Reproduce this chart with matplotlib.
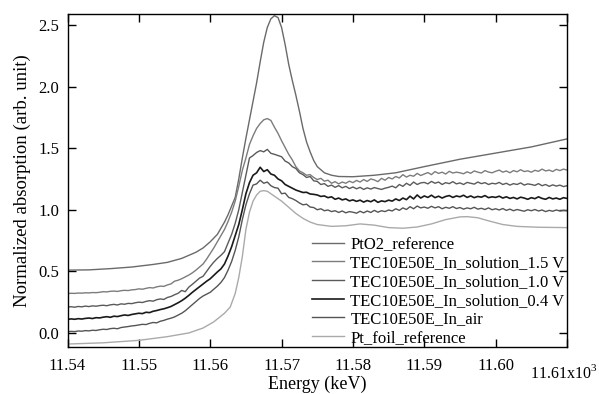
import numpy as np
import matplotlib
matplotlib.use("Agg")
import matplotlib.pyplot as plt

plt.rcParams['font.family'] = ['Liberation Serif', 'DejaVu Serif']
plt.rcParams['mathtext.fontset'] = 'custom'
plt.rcParams['mathtext.rm'] = 'Liberation Serif'

# ---- data (energies in eV above 11540 eV) ----
e_noisy = np.arange(141) * 0.5

sol_15 = [
    0.320, 0.322, 0.321, 0.324, 0.323, 0.326, 0.325, 0.328, 0.327, 0.330,
    0.335, 0.333, 0.338, 0.340, 0.337, 0.343, 0.346, 0.344, 0.350, 0.352,
    0.358, 0.355, 0.362, 0.368, 0.365, 0.374, 0.380, 0.378, 0.390, 0.398,
    0.420, 0.428, 0.440, 0.455, 0.470, 0.488, 0.510, 0.535, 0.560, 0.600,
    0.645, 0.690, 0.740, 0.790, 0.840, 0.905, 0.980, 1.070, 1.190, 1.320,
    1.420, 1.530, 1.600, 1.660, 1.700, 1.730, 1.740, 1.725, 1.670, 1.620,
    1.560, 1.505, 1.450, 1.405, 1.350, 1.315, 1.300, 1.280, 1.285, 1.262,
    1.245, 1.255, 1.232, 1.240, 1.215, 1.228, 1.210, 1.225, 1.215, 1.232,
    1.220, 1.238, 1.225, 1.245, 1.230, 1.250, 1.242, 1.228, 1.255, 1.240,
    1.262, 1.250, 1.270, 1.258, 1.285, 1.265, 1.280, 1.272, 1.295, 1.278,
    1.290, 1.302, 1.285, 1.310, 1.295, 1.305, 1.290, 1.312, 1.298, 1.305,
    1.300, 1.292, 1.308, 1.296, 1.315, 1.305, 1.298, 1.318, 1.306, 1.300,
    1.312, 1.322, 1.305, 1.315, 1.300, 1.318, 1.308, 1.325, 1.310, 1.316,
    1.305, 1.320, 1.312, 1.330, 1.315, 1.322, 1.310, 1.328, 1.318, 1.330,
    1.322]

sol_10 = [
    0.210, 0.213, 0.209, 0.215, 0.212, 0.218, 0.214, 0.220, 0.217, 0.222,
    0.225, 0.221, 0.228, 0.232, 0.227, 0.236, 0.233, 0.240, 0.238, 0.245,
    0.250, 0.247, 0.256, 0.262, 0.258, 0.270, 0.276, 0.272, 0.288, 0.296,
    0.310, 0.322, 0.345, 0.335, 0.372, 0.395, 0.420, 0.445, 0.460, 0.500,
    0.540, 0.575, 0.605, 0.630, 0.660, 0.730, 0.800, 0.890, 1.000, 1.140,
    1.280, 1.420, 1.440, 1.465, 1.480, 1.470, 1.490, 1.458, 1.450, 1.440,
    1.430, 1.395, 1.380, 1.350, 1.335, 1.300, 1.285, 1.262, 1.270, 1.235,
    1.230, 1.205, 1.212, 1.190, 1.200, 1.182, 1.196, 1.178, 1.190, 1.172,
    1.185, 1.170, 1.182, 1.165, 1.178, 1.168, 1.180, 1.172, 1.165, 1.175,
    1.182, 1.192, 1.178, 1.205, 1.190, 1.215, 1.198, 1.225, 1.205, 1.218,
    1.222, 1.210, 1.230, 1.215, 1.225, 1.205, 1.220, 1.212, 1.228, 1.210,
    1.218, 1.205, 1.222, 1.215, 1.208, 1.225, 1.212, 1.220, 1.205, 1.215,
    1.210, 1.222, 1.205, 1.215, 1.200, 1.212, 1.205, 1.218, 1.200, 1.210,
    1.205, 1.198, 1.212, 1.195, 1.205, 1.190, 1.202, 1.192, 1.200, 1.188,
    1.195]

sol_04 = [
    0.110, 0.114, 0.111, 0.116, 0.113, 0.118, 0.121, 0.117, 0.124, 0.122,
    0.128, 0.132, 0.127, 0.136, 0.133, 0.140, 0.146, 0.142, 0.150, 0.155,
    0.160, 0.157, 0.168, 0.165, 0.176, 0.182, 0.190, 0.196, 0.205, 0.215,
    0.230, 0.245, 0.262, 0.282, 0.305, 0.330, 0.352, 0.375, 0.398, 0.420,
    0.440, 0.468, 0.495, 0.520, 0.560, 0.625, 0.700, 0.790, 0.880, 1.000,
    1.130, 1.220, 1.280, 1.300, 1.345, 1.310, 1.325, 1.290, 1.280, 1.250,
    1.235, 1.205, 1.190, 1.175, 1.160, 1.150, 1.140, 1.142, 1.128, 1.125,
    1.120, 1.108, 1.112, 1.098, 1.105, 1.085, 1.095, 1.080, 1.088, 1.072,
    1.080, 1.068, 1.078, 1.062, 1.075, 1.065, 1.080, 1.060, 1.072, 1.066,
    1.078, 1.070, 1.088, 1.075, 1.095, 1.082, 1.110, 1.088, 1.120, 1.095,
    1.112, 1.100, 1.118, 1.098, 1.110, 1.095, 1.108, 1.115, 1.100, 1.112,
    1.105, 1.118, 1.100, 1.112, 1.098, 1.108, 1.102, 1.115, 1.098, 1.105,
    1.100, 1.110, 1.095, 1.105, 1.092, 1.100, 1.088, 1.102, 1.095, 1.085,
    1.098, 1.090, 1.105, 1.092, 1.085, 1.100, 1.088, 1.095, 1.085, 1.098,
    1.092]

in_air = [
    0.010, 0.013, 0.011, 0.016, 0.014, 0.019, 0.017, 0.022, 0.020, 0.026,
    0.030, 0.028, 0.035, 0.038, 0.034, 0.044, 0.048, 0.052, 0.057, 0.060,
    0.065, 0.070, 0.068, 0.078, 0.085, 0.082, 0.095, 0.102, 0.112, 0.120,
    0.130, 0.145, 0.160, 0.180, 0.205, 0.230, 0.255, 0.280, 0.300, 0.315,
    0.330, 0.355, 0.380, 0.410, 0.450, 0.510, 0.580, 0.670, 0.780, 0.920,
    1.040, 1.130, 1.200, 1.210, 1.240, 1.215, 1.225, 1.195, 1.180, 1.175,
    1.130, 1.135, 1.100, 1.090, 1.075, 1.055, 1.040, 1.045, 1.022, 1.018,
    1.000, 1.008, 0.992, 0.998, 0.985, 0.992, 0.978, 0.990, 0.975, 0.985,
    0.980, 0.972, 0.988, 0.975, 0.990, 0.978, 0.995, 0.980, 0.992, 0.985,
    0.998, 0.990, 1.008, 0.995, 1.015, 1.002, 1.025, 1.008, 1.030, 1.015,
    1.022, 1.012, 1.028, 1.015, 1.025, 1.008, 1.020, 1.012, 1.025, 1.010,
    1.018, 1.005, 1.015, 1.008, 1.020, 1.005, 1.012, 1.002, 1.015, 1.000,
    1.008, 0.998, 1.010, 0.995, 1.005, 0.992, 1.002, 0.995, 0.988, 1.000,
    0.992, 1.002, 0.990, 0.998, 0.985, 0.995, 0.988, 0.998, 0.990, 0.995,
    0.992]

e_pto2 = [0, 3, 6, 9, 12, 14, 16, 18, 19, 20, 21, 22, 22.5, 23, 23.5, 24, 24.5,
          25, 25.5, 26, 26.5, 27, 27.5, 28, 28.5, 29, 29.5, 30, 30.5, 31, 31.5,
          32, 32.5, 33, 33.5, 34, 34.5, 35, 36, 37, 38, 40, 43, 46, 50, 55, 60,
          65, 70]
pto2 = [0.51, 0.512, 0.522, 0.535, 0.556, 0.573, 0.605, 0.655, 0.69, 0.74,
        0.80, 0.90, 0.96, 1.03, 1.10, 1.25, 1.42, 1.58, 1.73, 1.88, 2.03, 2.20,
        2.36, 2.48, 2.55, 2.575, 2.56, 2.48, 2.34, 2.18, 2.05, 1.93, 1.80, 1.66,
        1.55, 1.47, 1.40, 1.35, 1.30, 1.28, 1.27, 1.268, 1.28, 1.30, 1.35, 1.41,
        1.46, 1.51, 1.575]

e_foil = [0, 5, 10, 14, 17, 19, 20.5, 22, 22.8, 23.5, 24, 24.5, 25, 25.5, 26,
          26.5, 27, 27.5, 28, 28.5, 29, 30, 31, 32, 33, 34, 35, 37, 39, 41, 43,
          45, 47, 49, 51, 53, 55, 56, 57.5, 59, 61, 63, 66, 70]
foil = [-0.09, -0.08, -0.06, -0.03, 0.0, 0.04, 0.09, 0.16, 0.21, 0.32, 0.45,
        0.62, 0.84, 0.98, 1.07, 1.12, 1.15, 1.155, 1.15, 1.13, 1.11, 1.07, 1.02,
        0.97, 0.93, 0.90, 0.88, 0.865, 0.87, 0.885, 0.875, 0.855, 0.85, 0.86,
        0.885, 0.92, 0.942, 0.944, 0.935, 0.91, 0.88, 0.865, 0.858, 0.855]

labels = ["PtO2_reference", "TEC10E50E_In_solution_1.5 V",
          "TEC10E50E_In_solution_1.0 V", "TEC10E50E_In_solution_0.4 V",
          "TEC10E50E_In_air", "Pt_foil_reference"]
xticks = [11.54, 11.55, 11.56, 11.57, 11.58, 11.59, 11.60, 11.61]
yticks = [0.0, 0.5, 1.0, 1.5, 2.0, 2.5]

E0 = 11.540
def kev(e):
    return E0 + np.asarray(e) / 1000.0

fig = plt.figure(figsize=(5.99, 3.94), dpi=100)
ax = fig.add_axes([0.1127, 0.1193, 0.8339, 0.8452])

ax.plot(kev(e_pto2), pto2, color='#6a6a6a', lw=1.0, label=labels[0])
ax.plot(kev(e_noisy), sol_15, color='#7c7c7c', lw=1.0, label=labels[1])
ax.plot(kev(e_noisy), sol_10, color='#5a5a5a', lw=1.0, label=labels[2])
ax.plot(kev(e_noisy), sol_04, color='#1a1a1a', lw=1.2, label=labels[3])
ax.plot(kev(e_noisy), in_air, color='#555555', lw=1.0, label=labels[4])
ax.plot(kev(e_foil), foil, color='#aaaaaa', lw=1.0, label=labels[5])

ax.set_xlim(11.54, 11.61)
ax.set_ylim(-0.114, 2.589)
ax.set_xticks(xticks)
ax.set_xticklabels([f"{v:.2f}" for v in xticks[:-1]] + [""])
ax.set_yticks(yticks)
ax.set_yticklabels([f"{v:.1f}" for v in yticks])
ax.tick_params(direction='in', top=True, right=True, length=6, width=1.0,
               labelsize=12, pad=6, colors='black')
ax.tick_params(axis='x', pad=8)
for s in ax.spines.values():
    s.set_linewidth(1.0)

# last x tick label, drawn with its exponent as in the original
fig.text(0.9975, 1 - 364 / 394, "11.61x10$^3$", ha='right', va='top',
         fontsize=11.5)

ax.set_xlabel("Energy (keV)", fontsize=13, labelpad=1)
ax.set_ylabel("Normalized absorption (arb. unit)", fontsize=13.5, labelpad=5)

leg = ax.legend(loc='lower left', bbox_to_anchor=(0.4895, 0.003), frameon=False,
                fontsize=12, handlelength=1.9, handletextpad=0.4,
                labelspacing=0.16, borderpad=0, borderaxespad=0)

fig.savefig("out.png", dpi=100)
